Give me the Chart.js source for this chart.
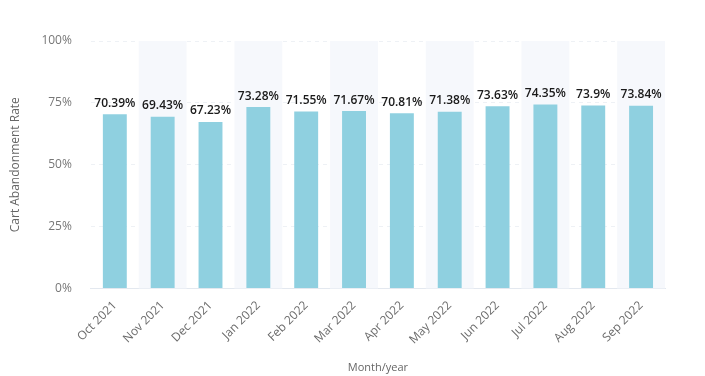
<!DOCTYPE html>
<html>
<head>
<meta charset="utf-8">
<script src="https://cdn.jsdelivr.net/npm/chart.js@4"></script>
<style>
  html, body { margin: 0; padding: 0; background: #fff; }
  #wrap { width: 705px; height: 376px; }
</style>
</head>
<body>
<div id="wrap"><canvas id="myChart"></canvas></div>
<script>
const months = ['Oct 2021', 'Nov 2021', 'Dec 2021', 'Jan 2022', 'Feb 2022', 'Mar 2022',
                'Apr 2022', 'May 2022', 'Jun 2022', 'Jul 2022', 'Aug 2022', 'Sep 2022'];
const abandonRate = [70.39, 69.43, 67.23, 73.28, 71.55, 71.67, 70.81, 71.38, 73.63, 74.35, 73.9, 73.84];
const yTicks = [0, 25, 50, 75, 100];

// shaded background for every other month
const bandPlugin = {
    id: 'bands',
    beforeDatasetsDraw(chart) {
        const { ctx, chartArea, scales } = chart;
        const x = scales.x;
        const w = x.width / months.length;
        ctx.save();
        ctx.fillStyle = '#f6f8fc';
        months.forEach((m, i) => {
            if (i % 2 === 1) {
                const cx = x.getPixelForValue(i);
                ctx.fillRect(cx - w / 2, chartArea.top, w, chartArea.bottom - chartArea.top);
            }
        });
        ctx.restore();
    }
};

// value labels above each bar
const labelPlugin = {
    id: 'valueLabels',
    afterDatasetsDraw(chart) {
        const { ctx } = chart;
        const meta = chart.getDatasetMeta(0);
        ctx.save();
        ctx.fillStyle = '#1a1a1a';
        ctx.font = '600 12px "Open Sans"';
        ctx.textAlign = 'center';
        ctx.textBaseline = 'bottom';
        meta.data.forEach((bar, i) => {
            ctx.fillText(abandonRate[i] + '%', bar.x, bar.y - 5);
        });
        ctx.restore();
    }
};

const chart = new Chart(document.getElementById('myChart').getContext('2d'), {
    type: 'bar',
    data: {
        labels: months,
        datasets: [{
            data: abandonRate,
            backgroundColor: '#8fd0e0',
            barPercentage: 0.5,
            categoryPercentage: 1
        }]
    },
    plugins: [bandPlugin, labelPlugin],
    options: {
        responsive: true,
        maintainAspectRatio: false,
        animation: false,
        layout: { padding: { top: 41, right: 40, left: 4, bottom: 0 } },
        plugins: { legend: { display: false }, tooltip: { enabled: false } },
        scales: {
            x: {
                grid: { display: false },
                border: { color: '#e3e8ef', width: 1 },
                ticks: {
                    color: '#6b6b6b',
                    font: { family: 'Open Sans', size: 12 },
                    maxRotation: 45, minRotation: 45,
                    padding: 2
                },
                title: {
                    display: true, text: 'Month/year', color: '#666',
                    font: { family: 'Open Sans', size: 11 }, padding: { top: 12, bottom: 2 }
                }
            },
            y: {
                min: 0, max: 100,
                afterBuildTicks(axis) { axis.ticks = yTicks.map(v => ({ value: v })); },
                grid: { color: '#eef1f5', drawTicks: false },
                border: { display: false, dash: [4, 4] },
                ticks: {
                    color: '#777',
                    font: { family: 'Open Sans', size: 12 },
                    padding: 19,
                    callback: v => v + '%'
                },
                title: {
                    display: true, text: 'Cart Abandonment Rate', color: '#666',
                    font: { family: 'Open Sans', size: 12 }, padding: { bottom: 0 }
                }
            }
        }
    }
});
</script>
</body>
</html>
